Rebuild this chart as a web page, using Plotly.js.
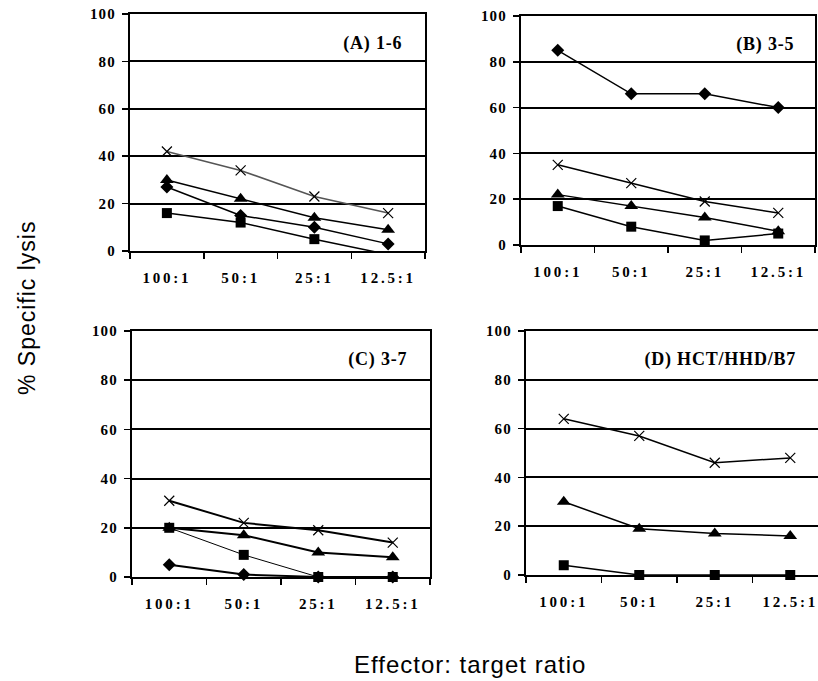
<!DOCTYPE html>
<html>
<head>
<meta charset="utf-8">
<script src="https://cdn.plot.ly/plotly-3.0.1.min.js"></script>
<style>
html, body { margin: 0; padding: 0; overflow: hidden; background: #fff; }
#chart { width: 830px; height: 681px; }
g.xtick text, g.x2tick text, g.x3tick text, g.x4tick text { letter-spacing: 2.8px; font-weight: bold !important; }
g.ytick text, g.y2tick text, g.y3tick text, g.y4tick text { letter-spacing: 1.2px; font-weight: bold !important; }
g.annotation[data-index="0"] text, g.annotation[data-index="1"] text,
g.annotation[data-index="2"] text, g.annotation[data-index="3"] text { letter-spacing: 0.8px; font-weight: bold !important; }
g.annotation[data-index="4"] text, g.annotation[data-index="5"] text { letter-spacing: 1px; }
</style>
</head>
<body>
<div id="chart"></div>
<script>
// ---- data ----
const categories = ["100:1", "50:1", "25:1", "12.5:1"];
const yTicks = [0, 20, 40, 60, 80, 100];

// (A) 1-6
const aCross   = [42, 34, 23, 16];
const aTri     = [30, 22, 14, 9];
const aDiamond = [27, 15, 10, 3];
const aSquare  = [16, 12, 5, -1.5];

// (B) 3-5
const bDiamond = [85, 66, 66, 60];
const bCross   = [35, 27, 19, 14];
const bTri     = [22, 17, 12, 6];
const bSquare  = [17, 8, 2, 5];

// (C) 3-7
const cCross   = [31, 22, 19, 14];
const cTri     = [20, 17, 10, 8];
const cSquare  = [20, 9, 0, 0];
const cDiamond = [5, 1, 0, 0];

// (D) HCT/HHD/B7
const dCross   = [64, 57, 46, 48];
const dTri     = [30, 19, 17, 16];
const dSquare  = [4, 0, 0, 0];

const panelTitles = ["(A) 1-6", "(B) 3-5", "(C) 3-7", "(D) HCT/HHD/B7"];
const yTitle = "% Specific lysis";
const xTitle = "Effector: target ratio";

// ---- geometry ----
const W = 830, H = 681;
const px = v => v / W;
const py = v => 1 - v / H;

const symbols = {
  cross: "x-thin-open",
  tri: "triangle-up",
  diamond: "diamond",
  square: "square"
};
const sizes = { cross: 10, tri: 12, diamond: 10, square: 10 };

function tr(y, kind, ax, opts) {
  opts = opts || {};
  return {
    x: categories, y: y, type: "scatter", mode: "lines+markers",
    xaxis: "x" + ax, yaxis: "y" + ax,
    line: { color: opts.lineColor || "#000", width: opts.lw || 1.5 },
    marker: { symbol: symbols[kind], size: sizes[kind], color: "#000",
              line: { color: "#000", width: kind === "cross" ? 1.2 : 0 } },
    cliponaxis: opts.clip === true,
    showlegend: false, hoverinfo: "skip"
  };
}

const data = [
  tr(aCross, "cross", "", { lineColor: "#555", lw: 1.5 }),
  tr(aTri, "tri", ""),
  tr(aDiamond, "diamond", ""),
  tr(aSquare, "square", "", { clip: true }),

  tr(bDiamond, "diamond", "2"),
  tr(bCross, "cross", "2"),
  tr(bTri, "tri", "2"),
  tr(bSquare, "square", "2"),

  tr(cCross, "cross", "3", { lw: 2 }),
  tr(cTri, "tri", "3", { lw: 2 }),
  tr(cSquare, "square", "3", { lw: 1 }),
  tr(cDiamond, "diamond", "3", { lw: 2 }),

  tr(dCross, "cross", "4"),
  tr(dTri, "tri", "4"),
  tr(dSquare, "square", "4")
];

const boxes = [
  { x: [130, 425], y: [14, 251] },
  { x: [521, 815], y: [16, 245] },
  { x: [132, 430], y: [331, 577] },
  { x: [526, 828], y: [331, 575] }
];

const tickFont = { family: "Liberation Serif", size: 15, color: "#000", weight: "bold" };

function xax(b, anchor) {
  return {
    domain: [px(b.x[0]), px(b.x[1])], anchor: anchor,
    type: "category", range: [-0.5, 3.5],
    tickson: "boundaries", ticks: "outside", ticklen: 6, tickwidth: 1.5, tickcolor: "#000",
    showline: true, linecolor: "#000", linewidth: 2, mirror: true,
    showgrid: false, zeroline: false,
    tickfont: tickFont, ticklabelstandoff: 12, fixedrange: true
  };
}
function yax(b, anchor) {
  return {
    domain: [py(b.y[1]), py(b.y[0])], anchor: anchor,
    range: [0, 100], tickvals: yTicks, ticktext: yTicks.map(String),
    ticks: "outside", ticklen: 6, tickwidth: 1.5, tickcolor: "#000",
    showline: true, linecolor: "#000", linewidth: 2, mirror: true,
    showgrid: true, gridcolor: "#000", gridwidth: 2, zeroline: false,
    tickfont: tickFont, ticklabelstandoff: 3, fixedrange: true
  };
}

const titlePos = [
  { x: 401, y: 43 },
  { x: 794, y: 44 },
  { x: 406, y: 359 },
  { x: 793, y: 359 }
];

const annotations = panelTitles.map((t, i) => ({
  text: t, xref: "paper", yref: "paper",
  x: px(titlePos[i].x), y: py(titlePos[i].y),
  xanchor: "right", yanchor: "middle", showarrow: false,
  font: { family: "Liberation Serif", size: 18, color: "#000", weight: "bold" }
}));
annotations.push({
  text: yTitle, xref: "paper", yref: "paper", x: px(27), y: py(308),
  xanchor: "center", yanchor: "middle", textangle: -90, showarrow: false,
  font: { family: "Liberation Sans", size: 23, color: "#000" }
});
annotations.push({
  text: xTitle, xref: "paper", yref: "paper", x: px(470), y: py(664),
  xanchor: "center", yanchor: "middle", showarrow: false,
  font: { family: "Liberation Sans", size: 24, color: "#000" }
});

const layout = {
  width: W, height: H,
  margin: { l: 0, r: 0, t: 0, b: 0, pad: 0 },
  paper_bgcolor: "#fff", plot_bgcolor: "#fff",
  font: { family: "Liberation Serif", color: "#000" },
  xaxis: xax(boxes[0], "y"), yaxis: yax(boxes[0], "x"),
  xaxis2: xax(boxes[1], "y2"), yaxis2: yax(boxes[1], "x2"),
  xaxis3: xax(boxes[2], "y3"), yaxis3: yax(boxes[2], "x3"),
  xaxis4: xax(boxes[3], "y4"), yaxis4: yax(boxes[3], "x4"),
  annotations: annotations,
  showlegend: false
};

Plotly.newPlot("chart", data, layout, { staticPlot: true, displayModeBar: false });
</script>
</body>
</html>
